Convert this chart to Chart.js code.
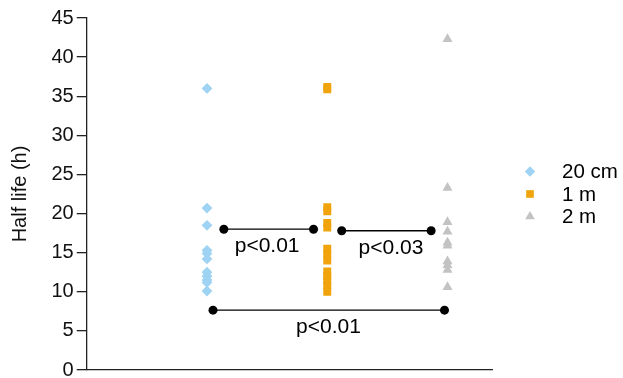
<!DOCTYPE html>
<html><head><meta charset="utf-8">
<script src="https://cdn.jsdelivr.net/npm/chart.js@4/dist/chart.umd.min.js"></script>
<style>html,body{margin:0;padding:0;background:#fff}#wrap{width:623px;height:378px;position:relative}</style>
</head><body><div id="wrap"><canvas id="c"></canvas></div>
<script>
// ---- data ----
const categories = ['20 cm', '1 m', '2 m'];
const categoryX = [1, 2, 3];
const halfLife20cm = [36.0, 20.7, 18.5, 15.3, 14.9, 14.2, 12.5, 12.0, 11.5, 11.2, 10.1];
const halfLife1m = [36.2, 35.9, 20.8, 20.3, 18.8, 18.2, 15.5, 14.8, 14.0, 12.6, 12.0, 11.4, 10.8, 10.0];
const halfLife2m = [42.3, 23.3, 18.9, 17.7, 16.3, 15.9, 13.9, 13.4, 12.8, 10.6];
const yTickValues = [0, 5, 10, 15, 20, 25, 30, 35, 40, 45];
// significance comparisons (x in category units, y in hours)
const comparisonFrom = [1.14, 2.12, 1.05];
const comparisonTo = [1.886, 2.864, 2.975];
const comparisonLevel = [18.0, 17.8, 7.65];
const comparisonLabels = ['p<0.01', 'p<0.03', 'p<0.01'];
const comparisonLabelX = [1.5, 2.53, 2.01];

const seriesValues = [halfLife20cm, halfLife1m, halfLife2m];
const seriesColors = ['#9fd3f3', '#f0a30a', '#c3c3c3'];
const seriesStyles = ['rectRot', 'rect', 'triangle'];
const seriesRadius = [5.4, 5.6, 5.8];
const FONT = "'Liberation Sans', Arial, Helvetica, sans-serif";

const datasets = seriesValues.map((vals, i) => ({
  type: 'scatter',
  label: categories[i],
  data: vals.map(v => ({x: categoryX[i], y: v})),
  pointStyle: seriesStyles[i],
  pointRadius: seriesRadius[i],
  pointHoverRadius: seriesRadius[i],
  backgroundColor: seriesColors[i],
  borderColor: seriesColors[i],
  pointBorderWidth: 0
}));
comparisonFrom.forEach((x1, i) => {
  datasets.push({
    type: 'line',
    label: comparisonLabels[i],
    data: [{x: x1, y: comparisonLevel[i]}, {x: comparisonTo[i], y: comparisonLevel[i]}],
    borderColor: '#000',
    borderWidth: 1.3,
    pointRadius: 4.5,
    pointHoverRadius: 4.5,
    pointBackgroundColor: '#000',
    pointBorderWidth: 0,
    fill: false
  });
});

const overlay = {
  id: 'overlay',
  afterDatasetsDraw(chart) {
    const ctx = chart.ctx, xs = chart.scales.x, ys = chart.scales.y;
    ctx.save();
    ctx.fillStyle = '#000';
    ctx.font = '21px ' + FONT;
    ctx.textAlign = 'center';
    ctx.textBaseline = 'alphabetic';
    comparisonLabels.forEach((lab, i) => {
      const cx = xs.getPixelForValue(comparisonLabelX[i]);
      const py = ys.getPixelForValue(comparisonLevel[i]) + 23;
      ctx.fillText(lab, cx, py);
    });
    // legend
    const ca = chart.chartArea;
    const midY = (ca.top + ca.bottom) / 2;
    const mx = ca.right + 38;
    ctx.font = '20.5px ' + FONT;
    ctx.textAlign = 'left';
    ctx.textBaseline = 'middle';
    categories.forEach((name, i) => {
      const y = midY + (i - 1) * 22.5;
      ctx.fillStyle = seriesColors[i];
      Chart.helpers.drawPoint(ctx, {pointStyle: seriesStyles[i], radius: seriesRadius[i] - 0.2, borderWidth: 0}, mx, y);
      ctx.fillStyle = '#000';
      ctx.fillText(name, mx + 32, y + 1);
    });
    ctx.restore();
  }
};

new Chart(document.getElementById('c'), {
  data: {datasets},
  options: {
    responsive: true,
    maintainAspectRatio: false,
    animation: false,
    layout: {padding: {left: 3, right: 131, top: 18, bottom: 0}},
    plugins: {legend: {display: false}, tooltip: {enabled: false}},
    scales: {
      x: {
        type: 'linear', min: 0, max: 3.37,
        ticks: {display: false},
        grid: {display: false},
        border: {display: true, color: '#222', width: 1.3}
      },
      y: {
        type: 'linear', min: 0, max: 45,
        afterBuildTicks: (axis) => { axis.ticks = yTickValues.map(v => ({value: v})); },
        ticks: {font: {family: FONT, size: 20, lineHeight: 0.5}, color: '#111', padding: 3},
        grid: {display: true, drawOnChartArea: false, tickLength: 10, color: '#222', lineWidth: 1.3},
        border: {display: true, color: '#222', width: 1.3},
        title: {display: true, text: 'Half life (h)', font: {family: FONT, size: 20}, color: '#111', padding: {top: 5.5, bottom: 16}}
      }
    }
  },
  plugins: [overlay]
});
</script>
</body></html>
